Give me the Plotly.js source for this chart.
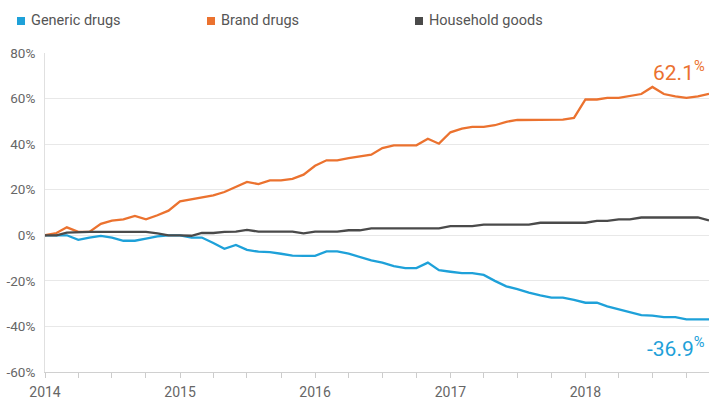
<!DOCTYPE html>
<html>
<head>
<meta charset="utf-8">
<script src="https://cdn.plot.ly/plotly-3.0.1.min.js"></script>
<style>
  html, body { margin: 0; padding: 0; background: #ffffff; }
  #chart { width: 709px; height: 400px; }
</style>
</head>
<body>
<div id="chart"></div>
<script>
// ---- data ----
const months = [
  '2014-01','2014-02','2014-03','2014-04','2014-05','2014-06','2014-07','2014-08','2014-09','2014-10','2014-11','2014-12',
  '2015-01','2015-02','2015-03','2015-04','2015-05','2015-06','2015-07','2015-08','2015-09','2015-10','2015-11','2015-12',
  '2016-01','2016-02','2016-03','2016-04','2016-05','2016-06','2016-07','2016-08','2016-09','2016-10','2016-11','2016-12',
  '2017-01','2017-02','2017-03','2017-04','2017-05','2017-06','2017-07','2017-08','2017-09','2017-10','2017-11','2017-12',
  '2018-01','2018-02','2018-03','2018-04','2018-05','2018-06','2018-07','2018-08','2018-09','2018-10','2018-11','2018-12'
];
const genericDrugs = [
  0, 0, 0, -2, -1, -0.3, -1, -2.4, -2.4, -1.5, -0.5, 0,
  0, -1, -1, -3.4, -5.9, -4.2, -6.4, -7.2, -7.4, -8.1, -8.9, -9,
  -9, -7.1, -7.1, -8.1, -9.5, -11, -12, -13.5, -14.4, -14.4, -12, -15.3,
  -16, -16.6, -16.6, -17.4, -20, -22.4, -23.6, -25.2, -26.4, -27.4, -27.4, -28.3,
  -29.6, -29.6, -31.2, -32.5, -34, -35, -35.3, -35.9, -35.9, -36.9, -36.9, -36.9
];
const brandDrugs = [
  0, 1, 3.5, 1.5, 1.5, 5, 6.4, 7, 8.5, 7, 8.8, 10.8,
  14.9, 15.9, 16.6, 17.5, 19, 21.2, 23.4, 22.5, 24.1, 24.1, 24.8, 26.6,
  30.5, 32.9, 32.9, 33.9, 34.6, 35.4, 38.3, 39.5, 39.5, 39.5, 42.4, 40.2,
  45.2, 46.8, 47.6, 47.6, 48.3, 49.8, 50.6, 50.6, 50.6, 50.6, 50.8, 51.5,
  59.6, 59.6, 60.3, 60.3, 61, 62, 65.1, 62, 61, 60.3, 61, 62.1
];
const householdGoods = [
  0, 0, 1.2, 1.5, 1.5, 1.5, 1.5, 1.5, 1.5, 1.5, 0.8, 0,
  0, -0.2, 1, 1, 1.5, 1.6, 2.4, 1.6, 1.6, 1.6, 1.6, 0.8,
  1.6, 1.6, 1.6, 2.2, 2.2, 3, 3, 3, 3, 3, 3, 3,
  4, 4, 4, 4.7, 4.7, 4.7, 4.7, 4.7, 5.5, 5.5, 5.5, 5.5,
  5.5, 6.3, 6.3, 7, 7, 7.8, 7.8, 7.8, 7.8, 7.8, 7.8, 6.5
];
const seriesNames = ['Generic drugs', 'Brand drugs', 'Household goods'];
const yTickVals = [-60, -40, -20, 0, 20, 40, 60, 80];
const yTickText = ['-60%', '-40%', '-20%', '0%', '20%', '40%', '60%', '80%'];

// ---- style ----
const colors = ['#1ea1d9', '#eb722f', '#4a4a4a'];
const FONT = 'Roboto, "Liberation Sans", Arial, sans-serif';
const TXT = '#666666';

const seriesData = [genericDrugs, brandDrugs, householdGoods];
const traces = seriesData.map((vals, i) => ({
  type: 'scatter', mode: 'lines', name: seriesNames[i],
  x: months, y: vals,
  line: { color: colors[i], width: 2.3 },
  showlegend: false, hoverinfo: 'x+y+name'
}));

// legend: squares + labels (positions in pixels converted to paper coords)
const W = 709, H = 400, ML = 45, MR = 0, MT = 53, MB = 28;
const pw = W - ML - MR, ph = H - MT - MB;
const px = v => (v - ML) / pw;
const py = v => (H - MB - v) / ph;
const legendX = [17, 207, 415];
const shapes = [], annotations = [];
legendX.forEach((lx, i) => {
  shapes.push({ type: 'rect', xref: 'paper', yref: 'paper',
    x0: px(lx), x1: px(lx + 8), y0: py(25), y1: py(17),
    fillcolor: colors[i], line: { width: 0 } });
  annotations.push({ xref: 'paper', yref: 'paper', x: px(lx + 12), y: py(21),
    xanchor: 'left', yanchor: 'middle', showarrow: false,
    text: seriesNames[i], font: { family: FONT, size: 14.5, color: '#555555' } });
});

// end-value labels
const last = a => a[a.length - 1];
annotations.push({ xref: 'x', yref: 'y', x: last(months), y: last(brandDrugs),
  xanchor: 'right', yanchor: 'middle', yshift: 23, xshift: -2, showarrow: false,
  text: last(brandDrugs).toFixed(1) + '<sup>%</sup>',
  font: { family: FONT, size: 21, color: colors[1] } });
annotations.push({ xref: 'x', yref: 'y', x: last(months), y: last(genericDrugs),
  xanchor: 'right', yanchor: 'middle', yshift: -28, xshift: -2, showarrow: false,
  text: last(genericDrugs).toFixed(1) + '<sup>%</sup>',
  font: { family: FONT, size: 21, color: colors[0] } });

const layout = {
  width: W, height: H,
  margin: { l: ML, r: MR, t: MT, b: MB, pad: 0 },
  paper_bgcolor: '#ffffff', plot_bgcolor: '#ffffff',
  showlegend: false,
  xaxis: {
    type: 'date', range: ['2014-01-01', '2018-12-01'],
    tickformat: '%Y', dtick: 'M12', tick0: '2014-01-01',
    ticks: 'outside', ticklen: 5, tickcolor: '#cccccc', tickwidth: 1,
    minor: { dtick: 'M3', ticks: 'outside', ticklen: 5, tickcolor: '#cccccc', showgrid: false },
    showgrid: false, zeroline: false,
    showline: true, linecolor: '#d0d0d0', linewidth: 1,
    ticklabelstandoff: 2,
    tickfont: { family: FONT, size: 14, color: TXT }
  },
  yaxis: {
    range: [-60, 80], tickmode: 'array', tickvals: yTickVals, ticktext: yTickText,
    showgrid: true, gridcolor: '#e8e8e8', gridwidth: 1,
    zeroline: false, showline: true, linecolor: '#e0e0e0', linewidth: 1,
    ticks: '', ticklabelstandoff: 6,
    tickfont: { family: FONT, size: 13.5, color: TXT }
  },
  shapes: shapes,
  annotations: annotations,
  font: { family: FONT }
};

Plotly.newPlot('chart', traces, layout, { displayModeBar: false, staticPlot: true });
</script>
</body>
</html>
